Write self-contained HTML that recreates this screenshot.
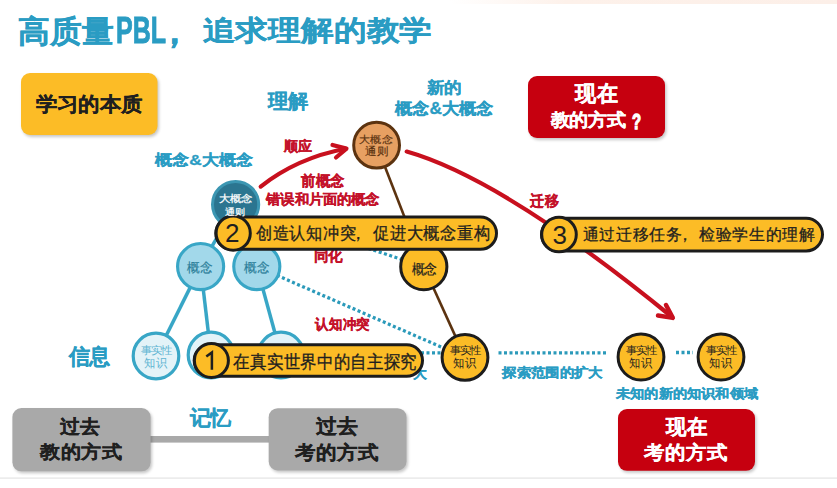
<!DOCTYPE html>
<html><head><meta charset="utf-8"><style>
html,body{margin:0;padding:0;background:#fff;width:837px;height:488px;overflow:hidden;}
body{position:relative;font-family:"Liberation Sans",sans-serif;}
.t{position:absolute;white-space:nowrap;}
svg{position:absolute;left:0;top:0;}
.pbl{position:absolute;white-space:nowrap;font-weight:bold;color:#2a9cc3;}
.dg{position:absolute;font-family:"Liberation Sans",sans-serif;color:#1f1f1f;}
</style></head><body>
<svg width="837" height="488" viewBox="0 0 837 488">
<defs>
<linearGradient id="topg" x1="0" x2="1" y1="0" y2="0"><stop offset="0" stop-color="#fdf1ea" stop-opacity="0"/><stop offset="0.3" stop-color="#fdf1ea"/><stop offset="1" stop-color="#fcefe8"/></linearGradient>
<filter id="blur" x="-10%" y="-10%" width="120%" height="130%"><feGaussianBlur stdDeviation="1.5"/></filter>
</defs>
<rect x="450" y="0" width="387" height="4" fill="url(#topg)"/>
<rect x="0" y="477.5" width="837" height="1.2" fill="#e4e4e4"/>
<rect x="22.5" y="75" width="136.5" height="62" rx="9" fill="#000" opacity="0.22" filter="url(#blur)"/>
<rect x="21" y="73" width="136.5" height="62" rx="9" fill="#fcbc26"/>
<rect x="529.5" y="78" width="137" height="62" rx="9" fill="#000" opacity="0.22" filter="url(#blur)"/>
<rect x="528" y="76" width="137" height="62" rx="9" fill="#c6000f"/>
<rect x="619.5" y="411" width="137" height="61.80000000000001" rx="9" fill="#000" opacity="0.22" filter="url(#blur)"/>
<rect x="618" y="409" width="137" height="61.80000000000001" rx="9" fill="#c6000f"/>
<rect x="148" y="436" width="123" height="6.6" fill="#a9a9a9"/>
<rect x="13.9" y="410" width="138.2" height="63.30000000000001" rx="9" fill="#000" opacity="0.22" filter="url(#blur)"/>
<rect x="12.4" y="408" width="138.2" height="63.30000000000001" rx="9" fill="#a9a9a9"/>
<rect x="270.2" y="410.2" width="137.8" height="62.30000000000001" rx="9" fill="#000" opacity="0.22" filter="url(#blur)"/>
<rect x="268.7" y="408.2" width="137.8" height="62.30000000000001" rx="9" fill="#a9a9a9"/>
<line x1="235.6" y1="204.5" x2="200.6" y2="266.6" stroke="#38a6c6" stroke-width="3.5" stroke-linecap="butt"/>
<line x1="235.6" y1="204.5" x2="256.8" y2="266.6" stroke="#38a6c6" stroke-width="3.5" stroke-linecap="butt"/>
<line x1="200.6" y1="266.6" x2="156" y2="356" stroke="#38a6c6" stroke-width="3.5" stroke-linecap="butt"/>
<line x1="200.6" y1="266.6" x2="211" y2="355" stroke="#38a6c6" stroke-width="3.5" stroke-linecap="butt"/>
<line x1="256.8" y1="266.6" x2="281" y2="355" stroke="#38a6c6" stroke-width="3.5" stroke-linecap="butt"/>
<line x1="256.8" y1="266.6" x2="465" y2="357.4" stroke="#2b9aba" stroke-width="3.3" stroke-linecap="butt" stroke-dasharray="3 2.5"/>
<line x1="290" y1="222.5" x2="423.8" y2="266.7" stroke="#2b9aba" stroke-width="3.3" stroke-linecap="butt" stroke-dasharray="3 2.5"/>
<line x1="421" y1="352.8" x2="442" y2="352.8" stroke="#2b9aba" stroke-width="3.3" stroke-linecap="butt" stroke-dasharray="3 2.5"/>
<line x1="498.5" y1="352.8" x2="608" y2="352.8" stroke="#2b9aba" stroke-width="3.3" stroke-linecap="butt" stroke-dasharray="3 2.5"/>
<line x1="676" y1="352.5" x2="693" y2="352.5" stroke="#2b9aba" stroke-width="3.3" stroke-linecap="butt" stroke-dasharray="3 2.5"/>
<line x1="376.6" y1="145.2" x2="423.8" y2="266.7" stroke="#5c3310" stroke-width="2.6" stroke-linecap="butt"/>
<line x1="423.8" y1="266.7" x2="465" y2="357.4" stroke="#5c3310" stroke-width="2.6" stroke-linecap="butt"/>
<path d="M260.7,186.6 Q297,158 345.5,148.8" fill="none" stroke="#c8101e" stroke-width="4.2" stroke-linecap="round"/>
<path d="M332.5,145 L346.5,148.6 L336,157.5" fill="none" stroke="#c8101e" stroke-width="4.2" stroke-linecap="round" stroke-linejoin="round"/>
<path d="M406.7,151.6 Q503,179 672,317" fill="none" stroke="#c8101e" stroke-width="4.2" stroke-linecap="round"/>
<path d="M666,305 L672.8,317.9 L658,315.5" fill="none" stroke="#c8101e" stroke-width="4.5" stroke-linecap="round" stroke-linejoin="round"/>
<circle cx="376.6" cy="145.2" r="22.90" fill="#e7a062" stroke="#5c3310" stroke-width="3"/>
<circle cx="235.6" cy="204.5" r="23.10" fill="#2b7590" stroke="#3b96b2" stroke-width="3"/>
<circle cx="200.6" cy="266.6" r="23.05" fill="#a2d8ea" stroke="#38a6c6" stroke-width="3.1"/>
<circle cx="256.8" cy="266.6" r="23.05" fill="#a2d8ea" stroke="#38a6c6" stroke-width="3.1"/>
<circle cx="156" cy="356" r="22.80" fill="#e3f3f8" stroke="#38a6c6" stroke-width="3.2"/>
<circle cx="211" cy="355" r="22.80" fill="#e3f3f8" stroke="#38a6c6" stroke-width="3.2"/>
<circle cx="281" cy="355" r="22.80" fill="#e3f3f8" stroke="#38a6c6" stroke-width="3.2"/>
<circle cx="423.8" cy="266.7" r="23.10" fill="#fcbc26" stroke="#1c1c1c" stroke-width="3"/>
<circle cx="465" cy="357.4" r="22.90" fill="#fcbc26" stroke="#1c1c1c" stroke-width="3"/>
<circle cx="641" cy="357" r="22.90" fill="#fcbc26" stroke="#1c1c1c" stroke-width="3"/>
<circle cx="721" cy="357" r="22.90" fill="#fcbc26" stroke="#1c1c1c" stroke-width="3"/>
</svg>
<div class=t id=t18 style="transform:matrix(0.9821,0,0,1.0122,0.20,0.07);transform-origin:0 0;left:314.4px;top:249.1px;font-size:14.40px;line-height:14.40px;color:#c4122a;font-weight:bold;-webkit-text-stroke:0.3px #c4122a;">同化</div>
<div class=t id=t24 style="transform:matrix(0.9400,0,0,0.9582,0.02,0.04);transform-origin:0 0;left:412.6px;top:366.4px;font-size:14.58px;line-height:14.58px;color:#2a9cc3;font-weight:bold;-webkit-text-stroke:0.3px #2a9cc3;">大</div>
<svg width="837" height="488" viewBox="0 0 837 488">
<rect x="215.8" y="217.0" width="280.7" height="32.30000000000001" rx="16.150000000000006" fill="#fcbc26" stroke="#1c1c1c" stroke-width="3"/>
<circle cx="233.2" cy="233.15" r="17.1" fill="#fcbc26" stroke="#1c1c1c" stroke-width="3"/>
<rect x="541.5" y="218.2" width="281" height="32.70000000000002" rx="16.35000000000001" fill="#fcbc26" stroke="#1c1c1c" stroke-width="3"/>
<circle cx="559" cy="234.55" r="17.3" fill="#fcbc26" stroke="#1c1c1c" stroke-width="3"/>
<rect x="194.2" y="344.7" width="228.3" height="31.600000000000023" rx="15.800000000000011" fill="#fcbc26" stroke="#1c1c1c" stroke-width="3"/>
<circle cx="211.4" cy="360.5" r="17.0" fill="#fcbc26" stroke="#1c1c1c" stroke-width="3"/>
<path d="M206.3,356.6 L211.9,352.4 L211.9,369.8" fill="none" stroke="#1f1f1f" stroke-width="2.5" stroke-linejoin="miter"/>
</svg>
<div class="pbl" style="left:116px;top:11.5px;font-size:37.6px;line-height:37.6px;transform:scaleX(0.666);transform-origin:0 0;-webkit-text-stroke:0.9px #2a9cc3;">PBL</div>
<div class="pbl" style="left:158.4px;top:14.7px;font-size:33px;line-height:33px;-webkit-text-stroke:0.8px #2a9cc3;">，</div>
<div class="dg" style="left:225.1px;top:220.3px;font-size:26px;line-height:26px;">2</div>
<div class="dg" style="left:552.6px;top:221.5px;font-size:26px;line-height:26px;">3</div>

<div class=t id=t0 style="transform:matrix(0.9821,0,0,0.9605,-0.48,0.13);transform-origin:0 0;left:17.5px;top:15.6px;font-size:32.65px;line-height:32.65px;color:#2a9cc3;font-weight:bold;-webkit-text-stroke:0.35px #2a9cc3;">高质量</div>
<div class=t id=t1 style="transform:matrix(0.9942,0,0,0.8547,0.50,0.96);transform-origin:0 0;left:202.2px;top:15.2px;font-size:33.02px;line-height:33.02px;color:#2a9cc3;font-weight:bold;-webkit-text-stroke:0.35px #2a9cc3;">追求理解的教学</div>
<div class=t id=t2 style="transform:matrix(1.0071,0,0,0.9410,0.19,0.58);transform-origin:0 0;left:36.0px;top:94.4px;font-size:21.29px;line-height:21.29px;color:#1f1f1f;font-weight:bold;-webkit-text-stroke:0.25px #1f1f1f;">学习的本质</div>
<div class=t id=t3 style="transform:matrix(0.9665,0,0,0.9571,1.06,1.49);transform-origin:0 0;left:267.1px;top:90.2px;font-size:20.90px;line-height:20.90px;color:#2a9cc3;font-weight:bold;-webkit-text-stroke:0.25px #2a9cc3;">理解</div>
<div class=t id=t4 style="transform:matrix(1.0075,0,0,0.8912,-0.00,0.65);transform-origin:0 0;left:155.3px;top:152.2px;font-size:17.21px;line-height:17.21px;color:#2a9cc3;font-weight:bold;-webkit-text-stroke:0.3px #2a9cc3;">概念&amp;大概念</div>
<div class=t id=t5 style="transform:matrix(0.9976,0,0,0.9108,0.11,-0.53);transform-origin:0 0;left:426.9px;top:81.2px;font-size:17.16px;line-height:17.16px;color:#2a9cc3;font-weight:bold;-webkit-text-stroke:0.3px #2a9cc3;">新的</div>
<div class=t id=t6 style="transform:matrix(1.0056,0,0,0.9382,0.40,-0.32);transform-origin:0 0;left:395.1px;top:100.5px;font-size:17.14px;line-height:17.14px;color:#2a9cc3;font-weight:bold;-webkit-text-stroke:0.3px #2a9cc3;">概念&amp;大概念</div>
<div class=t id=t7 style="transform:matrix(1.0070,0,0,1.0503,0.40,-0.85);transform-origin:0 0;left:575.2px;top:83.3px;font-size:21.05px;line-height:21.05px;color:#ffffff;font-weight:bold;-webkit-text-stroke:0.25px #ffffff;">现在</div>
<div class=t id=t8 style="transform:matrix(0.9944,0,0,0.9381,0.60,0.20);transform-origin:0 0;left:549.6px;top:111.0px;font-size:19.38px;line-height:19.38px;color:#ffffff;font-weight:bold;-webkit-text-stroke:0.25px #ffffff;">教的方式</div>
<div class=t id=t9 style="transform:matrix(0.8072,0,0,1.2016,0.98,1.64);transform-origin:0 0;left:631.1px;top:108.7px;font-size:18.40px;line-height:18.40px;color:#ffffff;font-weight:bold;-webkit-text-stroke:0.25px #ffffff;-webkit-text-stroke:1.1px #fff;">?</div>
<div class=t id=t10 style="transform:matrix(0.9985,0,0,0.9937,-0.00,-0.42);transform-origin:0 0;left:284.3px;top:140.3px;font-size:13.65px;line-height:13.65px;color:#c4122a;font-weight:bold;-webkit-text-stroke:0.3px #c4122a;">顺应</div>
<div class=t id=t11 style="transform:matrix(1.0089,0,0,1.0527,-0.51,-1.43);transform-origin:0 0;left:301.5px;top:174.9px;font-size:13.98px;line-height:13.98px;color:#c4122a;font-weight:bold;-webkit-text-stroke:0.3px #c4122a;">前概念</div>
<div class=t id=t12 style="transform:matrix(1.0048,0,0,0.9781,0.41,0.73);transform-origin:0 0;left:266.2px;top:192.4px;font-size:14.24px;line-height:14.24px;color:#c4122a;font-weight:bold;-webkit-text-stroke:0.3px #c4122a;">错误和片面的概念</div>
<div class=t id=t13 style="transform:matrix(1.0265,0,0,0.9274,-1.04,0.06);transform-origin:0 0;left:359.6px;top:134.7px;font-size:11.10px;line-height:11.10px;color:#5a3210;font-weight:normal;-webkit-text-stroke:0.2px #5a3210;">大概念</div>
<div class=t id=t14 style="transform:matrix(1.0206,0,0,0.9861,-0.63,-0.14);transform-origin:0 0;left:365.5px;top:146.4px;font-size:10.95px;line-height:10.95px;color:#5a3210;font-weight:normal;-webkit-text-stroke:0.2px #5a3210;">通则</div>
<div class=t id=t15 style="transform:matrix(1.0010,0,0,0.8783,-0.00,0.08);transform-origin:0 0;left:218.6px;top:193.7px;font-size:11.00px;line-height:11.00px;color:#ffffff;font-weight:normal;-webkit-text-stroke:0.3px #fff;">大概念</div>
<div class=t id=t16 style="transform:matrix(0.9199,0,0,0.8311,0.02,1.13);transform-origin:0 0;left:224.7px;top:205.8px;font-size:11.05px;line-height:11.05px;color:#ffffff;font-weight:normal;-webkit-text-stroke:0.3px #fff;">通则</div>
<div class=t id=t17 style="transform:matrix(0.9696,0,0,1.0364,0.08,-0.18);transform-origin:0 0;left:529.7px;top:193.5px;font-size:14.87px;line-height:14.87px;color:#c4122a;font-weight:bold;-webkit-text-stroke:0.3px #c4122a;">迁移</div>
<div class=t id=t19 style="transform:matrix(0.9864,0,0,1.0154,-0.59,0.15);transform-origin:0 0;left:187.7px;top:260.8px;font-size:12.99px;line-height:12.99px;color:#2a7d98;font-weight:normal;-webkit-text-stroke:0.2px #2a7d98;">概念</div>
<div class=t id=t20 style="transform:matrix(0.9864,0,0,1.0154,0.00,0.15);transform-origin:0 0;left:243.9px;top:260.8px;font-size:12.99px;line-height:12.99px;color:#2a7d98;font-weight:normal;-webkit-text-stroke:0.2px #2a7d98;">概念</div>
<div class=t id=t21 style="transform:matrix(0.9864,0,0,1.0692,0.51,0.11);transform-origin:0 0;left:411.4px;top:262.1px;font-size:12.99px;line-height:12.99px;color:#1f1f1f;font-weight:normal;-webkit-text-stroke:0.2px #1f1f1f;">概念</div>
<div class=t id=t22 style="transform:matrix(0.9818,0,0,1.0246,0.18,0.33);transform-origin:0 0;left:314.5px;top:317.0px;font-size:13.97px;line-height:13.97px;color:#c4122a;font-weight:bold;-webkit-text-stroke:0.3px #c4122a;">认知冲突</div>
<div class=t id=t23 style="transform:matrix(0.9772,0,0,1.0247,0.59,-1.11);transform-origin:0 0;left:67.6px;top:346.6px;font-size:21.04px;line-height:21.04px;color:#2a9cc3;font-weight:bold;-webkit-text-stroke:0.25px #2a9cc3;">信息</div>
<div class=t id=t25 style="transform:matrix(1.0241,0,0,0.9267,-0.53,-0.44);transform-origin:0 0;left:502.8px;top:366.3px;font-size:14.44px;line-height:14.44px;color:#2a9cc3;font-weight:bold;-webkit-text-stroke:0.3px #2a9cc3;">探索范围的扩大</div>
<div class=t id=t26 style="transform:matrix(1.0136,0,0,0.9267,0.09,-0.91);transform-origin:0 0;left:615.8px;top:387.6px;font-size:14.28px;line-height:14.28px;color:#2a9cc3;font-weight:bold;-webkit-text-stroke:0.3px #2a9cc3;">未知的新的知识和领域</div>
<div class=t id=t27 style="transform:matrix(0.9702,0,0,0.9233,0.01,1.30);transform-origin:0 0;left:59.8px;top:416.1px;font-size:20.91px;line-height:20.91px;color:#1f1f1f;font-weight:bold;-webkit-text-stroke:0.25px #1f1f1f;">过去</div>
<div class=t id=t28 style="transform:matrix(0.9831,0,0,0.8816,1.09,1.15);transform-origin:0 0;left:39.1px;top:442.0px;font-size:20.95px;line-height:20.95px;color:#1f1f1f;font-weight:bold;-webkit-text-stroke:0.25px #1f1f1f;">教的方式</div>
<div class=t id=t29 style="transform:matrix(0.9751,0,0,0.9757,0.97,-0.01);transform-origin:0 0;left:189.2px;top:407.3px;font-size:21.19px;line-height:21.19px;color:#2a9cc3;font-weight:bold;-webkit-text-stroke:0.25px #2a9cc3;">记忆</div>
<div class=t id=t30 style="transform:matrix(1.0205,0,0,0.9747,-0.11,0.36);transform-origin:0 0;left:316.1px;top:416.1px;font-size:20.96px;line-height:20.96px;color:#1f1f1f;font-weight:bold;-webkit-text-stroke:0.25px #1f1f1f;">过去</div>
<div class=t id=t31 style="transform:matrix(0.9959,0,0,0.9248,0.00,1.19);transform-origin:0 0;left:295.0px;top:442.0px;font-size:20.90px;line-height:20.90px;color:#1f1f1f;font-weight:bold;-webkit-text-stroke:0.25px #1f1f1f;">考的方式</div>
<div class=t id=t32 style="transform:matrix(0.9728,0,0,1.0000,0.29,-0.30);transform-origin:0 0;left:665.5px;top:416.8px;font-size:20.95px;line-height:20.95px;color:#ffffff;font-weight:bold;-webkit-text-stroke:0.25px #ffffff;">现在</div>
<div class=t id=t33 style="transform:matrix(0.9948,0,0,0.9285,-0.60,0.19);transform-origin:0 0;left:644.8px;top:443.0px;font-size:20.73px;line-height:20.73px;color:#ffffff;font-weight:bold;-webkit-text-stroke:0.25px #ffffff;">考的方式</div>
<div class=t id=t34 style="transform:matrix(1.0436,0,0,1.0130,0.52,0.30);transform-origin:0 0;left:449.3px;top:346.3px;font-size:10.48px;line-height:10.48px;color:#1f1f1f;font-weight:normal;">事实性</div>
<div class=t id=t35 style="transform:matrix(1.0450,0,0,1.1119,-0.56,-0.98);transform-origin:0 0;left:454.1px;top:357.6px;font-size:10.77px;line-height:10.77px;color:#1f1f1f;font-weight:normal;">知识</div>
<div class=t id=t36 style="transform:matrix(1.0436,0,0,1.0130,0.52,0.30);transform-origin:0 0;left:625.3px;top:346.3px;font-size:10.48px;line-height:10.48px;color:#1f1f1f;font-weight:normal;">事实性</div>
<div class=t id=t37 style="transform:matrix(1.0450,0,0,1.1119,-0.56,-0.98);transform-origin:0 0;left:630.1px;top:357.6px;font-size:10.77px;line-height:10.77px;color:#1f1f1f;font-weight:normal;">知识</div>
<div class=t id=t38 style="transform:matrix(1.0436,0,0,1.0130,0.52,0.30);transform-origin:0 0;left:705.3px;top:346.3px;font-size:10.48px;line-height:10.48px;color:#1f1f1f;font-weight:normal;">事实性</div>
<div class=t id=t39 style="transform:matrix(1.0450,0,0,1.1119,-0.56,-0.98);transform-origin:0 0;left:710.1px;top:357.6px;font-size:10.77px;line-height:10.77px;color:#1f1f1f;font-weight:normal;">知识</div>
<div class=t id=t40 style="transform:matrix(1.0436,0,0,1.0130,0.52,0.30);transform-origin:0 0;left:140.3px;top:346.3px;font-size:10.48px;line-height:10.48px;color:#5fb5d2;font-weight:normal;">事实性</div>
<div class=t id=t41 style="transform:matrix(1.0450,0,0,1.1119,-0.56,-0.98);transform-origin:0 0;left:145.1px;top:357.6px;font-size:10.77px;line-height:10.77px;color:#5fb5d2;font-weight:normal;">知识</div>
<div class=t id=t42 style="transform:matrix(0.9852,0,0,1.0321,-0.11,-0.38);transform-origin:0 0;left:256.1px;top:225.8px;font-size:16.73px;line-height:16.73px;color:#1f1f1f;font-weight:normal;-webkit-text-stroke:0.3px #1f1f1f;">创造认知冲突<span style="position:relative;left:-0.36em">，</span>促进大概念重构</div>
<div class=t id=t43 style="transform:matrix(0.9781,0,0,0.9842,0.80,0.48);transform-origin:0 0;left:582.1px;top:227.1px;font-size:16.74px;line-height:16.74px;color:#1f1f1f;font-weight:normal;-webkit-text-stroke:0.3px #1f1f1f;">通过迁移任务<span style="position:relative;left:-0.36em">，</span>检验学生的理解</div>
<div class=t id=t44 style="transform:matrix(0.9826,0,0,1.0756,-0.59,0.55);transform-origin:0 0;left:233.5px;top:353.0px;font-size:16.72px;line-height:16.72px;color:#1f1f1f;font-weight:normal;-webkit-text-stroke:0.3px #1f1f1f;">在真实世界中的自主探究</div>
</body></html>
